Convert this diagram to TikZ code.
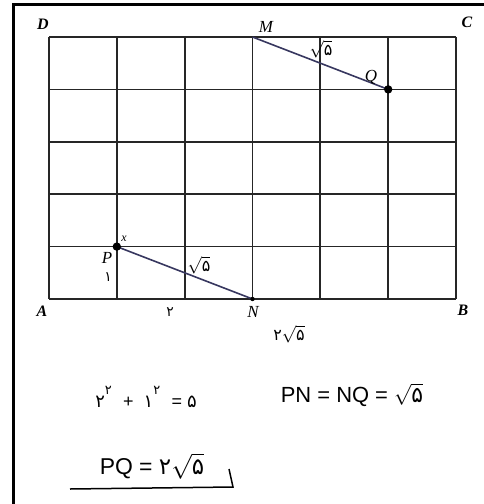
\documentclass[tikz,border=0pt]{standalone}
\usepackage{fontspec}
\setmainfont{Liberation Serif}
\newfontfamily\pf{DejaVu Sans}
\newfontfamily\hw{Liberation Sans}
\newcommand\rtp[1]{$\sqrt{\mbox{\pf #1}}$}
\begin{document}
\begin{tikzpicture}[x=1bp,y=-1bp,
  frameline/.style={line width=3bp,black},
  gridline/.style={line width=1.7bp,black!85},
  seg/.style={line width=1.6bp,draw={rgb,255:red,55;green,55;blue,95}},
  corner/.style={font=\fontsize{16}{16}\selectfont\itshape\bfseries,inner sep=0pt},
  ptlabel/.style={font=\fontsize{17}{17}\selectfont\itshape,inner sep=0pt},
  small/.style={font=\fontsize{16}{16}\selectfont,inner sep=0pt},
  hand/.style={font=\fontsize{22}{22}\selectfont\hw,inner sep=0pt}]
\useasboundingbox (0,0) rectangle (484,504);
% frame
\draw[frameline] (13,504) -- (13,5) -- (484,5);
% grid
\foreach \i in {0,...,6} \draw[gridline] ({49+\i*67.833},37) -- ({49+\i*67.833},299);
\foreach \j in {0,...,5} \draw[gridline] (49,{37+\j*52.4}) -- (456,{37+\j*52.4});
% points
\coordinate (M) at (252.5,37);
\coordinate (Q) at (388.2,89.4);
\coordinate (P) at (116.8,246.6);
\coordinate (N) at (252.5,299);
\draw[seg] (M) -- (Q);
\draw[seg] (P) -- (N);
\fill (Q) circle (4.2);
\fill (P) circle (4.2);
\fill (N) circle (2.2);
% corner labels
\node[corner] (lD) at (43,24) {D};
\node[corner] (lC) at (467,22) {C};
\node[corner] (lA) at (42,311) {A};
\node[corner] (lB) at (463,310) {B};
% point labels
\node[ptlabel] (lM) at (266,27) {M};
\node[ptlabel] (lQ) at (371,77) {Q};
\node[ptlabel] (lP) at (107,258) {P};
\node[ptlabel] (lN) at (253,312) {N};
\node[small,font=\fontsize{12}{12}\selectfont\itshape] (lx) at (124,239) {x};
% segment labels
\node[small] (s1) at (321,49) {\rtp{۵}};
\node[small] (s2) at (199,265) {\rtp{۵}};
\node[small,font=\fontsize{14}{14}\selectfont] (s3) at (108,277) {\pf ۱};
\node[small,font=\fontsize{14}{14}\selectfont] (s4) at (170,312) {\pf ۲};
\node[small] (s5) at (289,334) {{\pf ۲}\rtp{۵}};
% calculations
\node[hand,font=\fontsize{18}{18}\selectfont\hw] (e1) at (146,397)
  {\pf ۲\raisebox{1.3ex}{\fontsize{13}{13}\selectfont ۲}\ \ \hw +\ \ \pf ۱\raisebox{1.3ex}{\fontsize{13}{13}\selectfont ۲}\ \ \hw =\ \pf ۵};
\node[hand] (e2) at (352,395) {PN = NQ = \rtp{۵}};
\node[hand,font=\fontsize{23}{23}\selectfont\hw] (e3) at (152,466) {PQ = {\pf ۲}\rtp{۵}};
\coordinate (u1) at (70,489);
\coordinate (u2) at (233,487);
\coordinate (u3) at (229,469);
\draw[line width=1.5bp] (u1) -- (u2) -- (u3);
\end{tikzpicture}
\end{document}
